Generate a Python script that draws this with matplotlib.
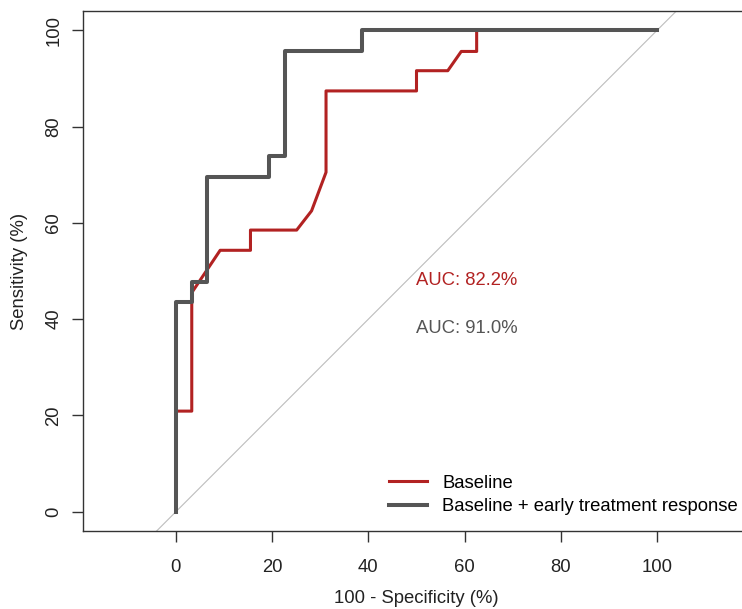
import matplotlib
matplotlib.use('Agg')
import matplotlib.pyplot as plt

plt.rcParams['font.family'] = ['Liberation Sans', 'DejaVu Sans']

# ROC vertices (x = 100 - specificity, y = sensitivity)
base_x = [0, 0, 3.3, 3.3, 9.2, 15.5, 15.5, 25.1, 28.2, 31.2, 31.2, 50.0, 50.0, 56.5, 59.3, 62.5, 62.5, 100]
base_y = [0, 20.9, 20.9, 45.5, 54.3, 54.3, 58.5, 58.5, 62.5, 70.5, 87.4, 87.4, 91.6, 91.6, 95.6, 95.6, 100, 100]

early_x = [0, 0, 3.3, 3.3, 6.5, 6.5, 19.4, 19.4, 22.6, 22.6, 38.7, 38.7, 100]
early_y = [0, 43.5, 43.5, 47.8, 47.8, 69.6, 69.6, 73.9, 73.9, 95.7, 95.7, 100, 100]

labels = ['Baseline', 'Baseline + early treatment response']
auc = [82.2, 91.0]
colors = ['#b22222', '#555555']
ticks = [0, 20, 40, 60, 80, 100]

fig = plt.figure(figsize=(7.42, 6.09), dpi=100)
ax = fig.add_axes([83 / 742, 78 / 609, 667 / 742, 520 / 609])

ax.axline((0, 0), (100, 100), color='#bdbdbd', lw=0.8, zorder=1)
ax.plot(base_x, base_y, color=colors[0], lw=2.2, label=labels[0], zorder=2)
ax.plot(early_x, early_y, color=colors[1], lw=2.9, label=labels[1], zorder=3)

ax.text(50, 48, 'AUC: %.1f%%' % auc[0], color=colors[0], fontsize=13.3, ha='left', va='center')
ax.text(50, 38, 'AUC: %.1f%%' % auc[1], color=colors[1], fontsize=13.3, ha='left', va='center')

ax.set_xlim(-19.3, 119.3)
ax.set_ylim(-4, 104)
ax.set_xticks(ticks)
ax.set_yticks(ticks)
ax.tick_params(colors='#333333', labelcolor='#222222', labelsize=13.3, length=8, width=1)
ax.tick_params(axis='x', pad=12)
ax.tick_params(axis='y', pad=7)
plt.setp(ax.get_yticklabels(), rotation=90, va='center')
for s in ax.spines.values():
    s.set_color('#333333')
    s.set_linewidth(1)

ax.set_xlabel('100 - Specificity (%)', fontsize=13.3, color='#222222', labelpad=10)
ax.set_ylabel('Sensitivity (%)', fontsize=13.3, color='#222222', labelpad=12)

ax.legend(loc='lower right', bbox_to_anchor=(0.982, 0.03), frameon=False, fontsize=13.3,
          handlelength=2.1, handletextpad=0.8, labelspacing=0.35, borderpad=0, borderaxespad=0)

fig.savefig('out.png', dpi=100)
